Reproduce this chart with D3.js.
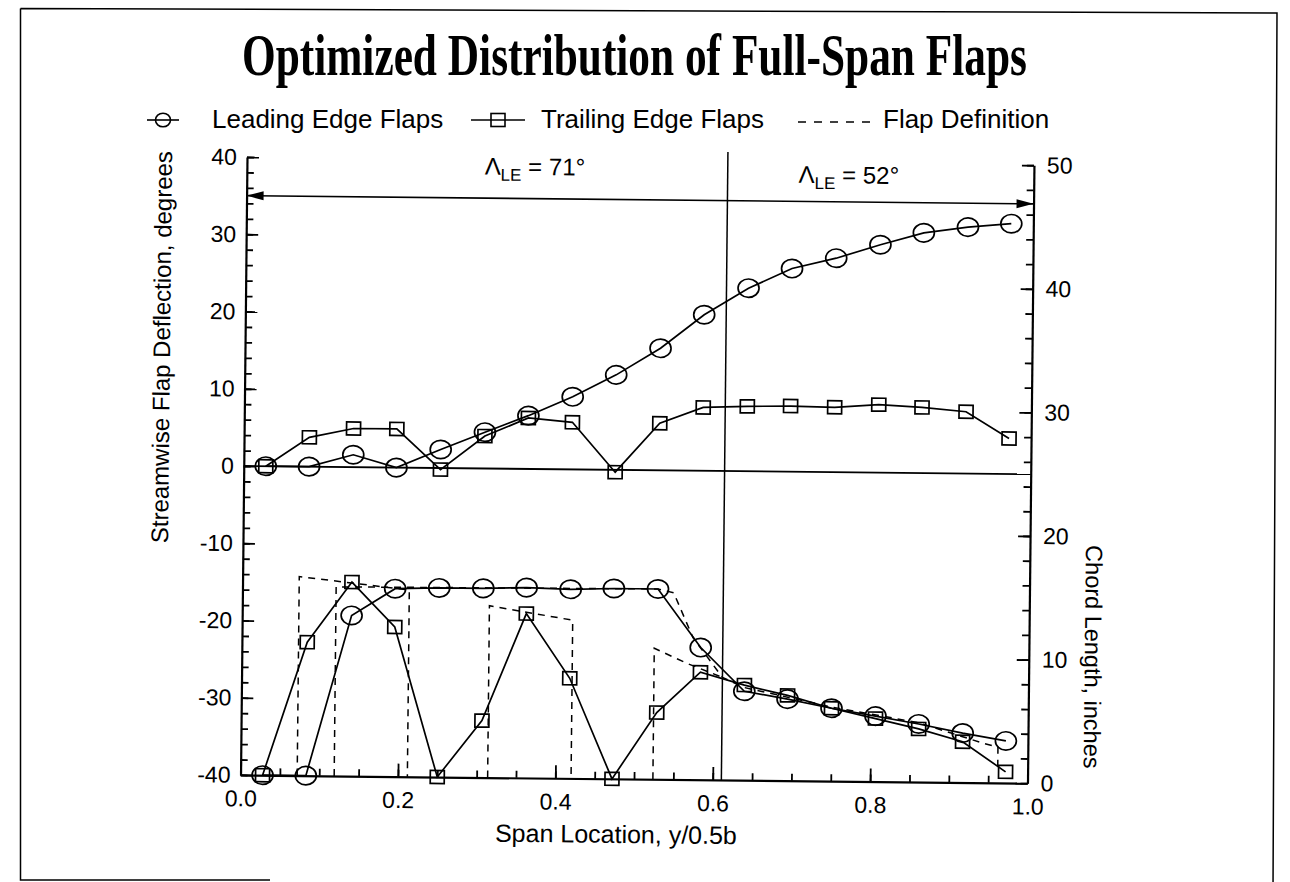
<!DOCTYPE html>
<html><head><meta charset="utf-8">
<script src="https://cdn.jsdelivr.net/npm/d3@7"></script>
<style>
body{margin:0;background:#fff}
svg{display:block;background:#fff}
text{font-family:"Liberation Sans",Arial,Helvetica,sans-serif;fill:#000}
</style>
</head><body>
<svg id="chart" width="1290" height="882"></svg>
<script>
// ---------- data ----------
const spanLocation = [0.028,0.083,0.139,0.194,0.250,0.306,0.361,0.417,0.472,0.528,0.583,0.639,0.694,0.750,0.806,0.861,0.917,0.972];
const leDeflection = [0,0,1.6,0,2.4,4.7,6.9,9.4,12.3,15.8,20.2,23.7,26.3,27.7,29.5,31.1,31.9,32.4];
const teDeflection = [0,3.8,5.0,5.0,-0.2,4.2,6.6,6.1,-0.3,6.1,8.2,8.4,8.5,8.4,8.8,8.5,8.0,4.6];
const leChord = [0,0,13.0,15.2,15.3,15.3,15.4,15.3,15.4,15.4,10.7,7.2,6.6,5.9,5.3,4.7,4.0,3.4];
const teChord = [0,10.8,15.7,12.1,0,4.6,13.3,8.1,0,5.4,8.7,7.7,6.9,5.9,5.1,4.3,3.3,0.9];

// flap definition outlines: [span, chord]
const flapDefTE1 = [[0.072,0],[0.072,16.1],[0.212,15.1],[0.212,0]];
const flapDefTE2 = [[0.314,0],[0.314,13.9],[0.420,12.8],[0.420,0]];
const flapDefTE3 = [[0.524,0],[0.524,10.6],[0.566,9.4],[0.611,8.3]];
const flapDefLE  = [[0.119,0],[0.119,15.3],[0.528,15.4],[0.548,15.1],[0.573,11.5],[0.611,8.3],[0.639,7.5],[0.750,6.0],[0.861,4.8],[0.943,3.2],[0.962,2.9],[0.962,1.0]];

const xTicks = [0,0.2,0.4,0.6,0.8,1.0];
const yLeftTicks = [-40,-30,-20,-10,0,10,20,30,40];
const yRightTicks = [0,10,20,30,40,50];
const sweepBreak = 0.611;
const sweepLabels = ["71°","52°"];
const legendLabels = ["Leading Edge Flaps","Trailing Edge Flaps","Flap Definition"];

// ---------- drawing ----------
const svg = d3.select("#chart");
svg.append("rect").attr("width",1290).attr("height",882).attr("fill","#fff");

// frame
svg.append("path")
  .attr("d","M20.5,8.5 L1277,13 L1273,890 M20.5,8.5 L20.5,880 L270,880")
  .attr("fill","none").attr("stroke","#000").attr("stroke-width",1.5);

// title (condensed serif, scaled horizontally to the original width)
const title = svg.append("text")
  .attr("x",0).attr("y",0)
  .style("font-family","'Liberation Serif','Times New Roman',serif")
  .style("font-weight","bold").style("font-size","60px")
  .text("Optimized Distribution of Full-Span Flaps");
const tw = title.node().getComputedTextLength();
title.attr("transform",`translate(242,75) scale(${785/tw},1)`);

// legend
const lg = svg.append("g");
lg.append("line").attr("x1",147).attr("x2",179).attr("y1",120).attr("y2",120).attr("stroke","#000").attr("stroke-width",1.6);
lg.append("ellipse").attr("cx",163).attr("cy",120).attr("rx",7.5).attr("ry",6.8).attr("fill","none").attr("stroke","#000").attr("stroke-width",1.6);
lg.append("text").attr("x",212).attr("y",128).style("font-size","26px").text(legendLabels[0]);
lg.append("line").attr("x1",471).attr("x2",525).attr("y1",120).attr("y2",120).attr("stroke","#000").attr("stroke-width",1.6);
lg.append("rect").attr("x",491).attr("y",113.5).attr("width",14).attr("height",13).attr("fill","none").attr("stroke","#000").attr("stroke-width",1.6);
lg.append("text").attr("x",541).attr("y",128).style("font-size","26px").text(legendLabels[1]);
lg.append("line").attr("x1",798).attr("x2",876).attr("y1",122).attr("y2",122).attr("stroke","#000").attr("stroke-width",1.6).attr("stroke-dasharray","8,8");
lg.append("text").attr("x",883).attr("y",128).style("font-size","26px").text(legendLabels[2]);

// plot (slightly rotated like the scanned original)
const x = d3.scaleLinear().domain([0,1]).range([247,1034]);
const yL = d3.scaleLinear().domain([-40,40]).range([775,157]);
const yR = d3.scaleLinear().domain([0,50]).range([775,157]);

const plot = svg.append("g").attr("transform","rotate(0.6,247,157)");

function styleAxis(g){
  g.attr("font-family","'Liberation Sans',Arial,sans-serif").attr("font-size",23);
  g.selectAll("line").attr("stroke","#000").attr("stroke-width",1.8);
  g.selectAll(".domain").attr("stroke","#000").attr("stroke-width",2.2);
  g.selectAll("text").attr("fill","#000");
}
// minor ticks
plot.append("g").attr("transform","translate(247,0)")
  .call(d3.axisLeft(yL).tickValues(d3.range(-40,41,2)).tickSize(-7).tickFormat(""))
  .call(g=>g.select(".domain").remove()).call(styleAxis);
plot.append("g").attr("transform","translate(1034,0)")
  .call(d3.axisRight(yR).tickValues(d3.range(0,51,2)).tickSize(-7).tickFormat(""))
  .call(g=>g.select(".domain").remove()).call(styleAxis);
plot.append("g").attr("transform","translate(0,775)")
  .call(d3.axisBottom(x).tickValues(d3.range(0,1.0001,0.05)).tickSize(-7).tickFormat(""))
  .call(g=>g.select(".domain").remove()).call(styleAxis);
// major axes
plot.append("g").attr("transform","translate(247,0)")
  .call(d3.axisLeft(yL).tickValues(yLeftTicks).tickSizeInner(-12).tickSizeOuter(0).tickPadding(10).tickFormat(d=>String(d)))
  .call(styleAxis);
plot.append("g").attr("transform","translate(1034,0)")
  .call(d3.axisRight(yR).tickValues(yRightTicks).tickSizeInner(-12).tickSizeOuter(0).tickPadding(13).tickFormat(d=>String(d)))
  .call(styleAxis);
plot.append("g").attr("transform","translate(0,775)")
  .call(d3.axisBottom(x).tickValues(xTicks).tickSizeInner(-13).tickSizeOuter(0).tickPadding(15).tickFormat(d=>d.toFixed(1)))
  .call(styleAxis);

// axis titles
plot.append("text").attr("transform","translate(172,348) rotate(-90)").attr("text-anchor","middle").style("font-size","24px")
  .text("Streamwise Flap Deflection, degrees");
plot.append("text").attr("transform","translate(1090,648) rotate(90)").attr("text-anchor","middle").style("font-size","23.5px")
  .text("Chord Length, inches");
plot.append("text").attr("x",623).attr("y",839).attr("text-anchor","middle").style("font-size","25px")
  .text("Span Location, y/0.5b");

// zero line, break line, sweep arrow
plot.append("line").attr("x1",x(0)).attr("x2",x(1)).attr("y1",yL(0)).attr("y2",yL(0)).attr("stroke","#000").attr("stroke-width",1.8);
plot.append("line").attr("x1",x(sweepBreak)).attr("x2",x(sweepBreak)).attr("y1",yL(40)-10).attr("y2",yL(-40)).attr("stroke","#000").attr("stroke-width",1.5);
const ya = yL(35);
plot.append("line").attr("x1",x(0)).attr("x2",x(1)).attr("y1",ya).attr("y2",ya).attr("stroke","#000").attr("stroke-width",1.6);
plot.append("path").attr("d",`M${x(0)},${ya} l17,-4.5 l0,9 Z`).attr("fill","#000");
plot.append("path").attr("d",`M${x(1)},${ya} l-17,-4.5 l0,9 Z`).attr("fill","#000");

function sweepLabel(cx, vy, deg){
  const t = plot.append("text").attr("x",x(cx)).attr("y",yL(vy)).attr("text-anchor","middle").style("font-size","24px");
  t.append("tspan").text("Λ");
  t.append("tspan").attr("dy",6).style("font-size","17px").text("LE");
  t.append("tspan").attr("dy",-6).text(" = "+deg);
}
sweepLabel(0.366, 38.05, sweepLabels[0]);
sweepLabel(0.765, 37.4, sweepLabels[1]);

// flap definition dashed outlines
const lineC = d3.line().x(d=>x(d[0])).y(d=>yR(d[1]));
[flapDefTE1, flapDefTE2, flapDefTE3, flapDefLE].forEach(def=>{
  plot.append("path").attr("d",lineC(def)).attr("fill","none").attr("stroke","#000")
    .attr("stroke-width",1.5).attr("stroke-dasharray","7,6");
});

// series
function series(vals, yScale, marker){
  const pts = spanLocation.map((s,i)=>[x(s), yScale(vals[i])]);
  plot.append("path").attr("d",d3.line()(pts)).attr("fill","none").attr("stroke","#000").attr("stroke-width",1.7);
  const g = plot.append("g");
  if(marker==="circle"){
    g.selectAll("ellipse").data(pts).join("ellipse")
      .attr("cx",d=>d[0]).attr("cy",d=>d[1]).attr("rx",10.5).attr("ry",9.2)
      .attr("fill","none").attr("stroke","#000").attr("stroke-width",1.7);
  } else {
    g.selectAll("rect").data(pts).join("rect")
      .attr("x",d=>d[0]-7).attr("y",d=>d[1]-6.5).attr("width",14).attr("height",13)
      .attr("fill","none").attr("stroke","#000").attr("stroke-width",1.7);
  }
}
series(teDeflection, yL, "square");
series(leDeflection, yL, "circle");
series(teChord, yR, "square");
series(leChord, yR, "circle");
</script>
</body></html>
